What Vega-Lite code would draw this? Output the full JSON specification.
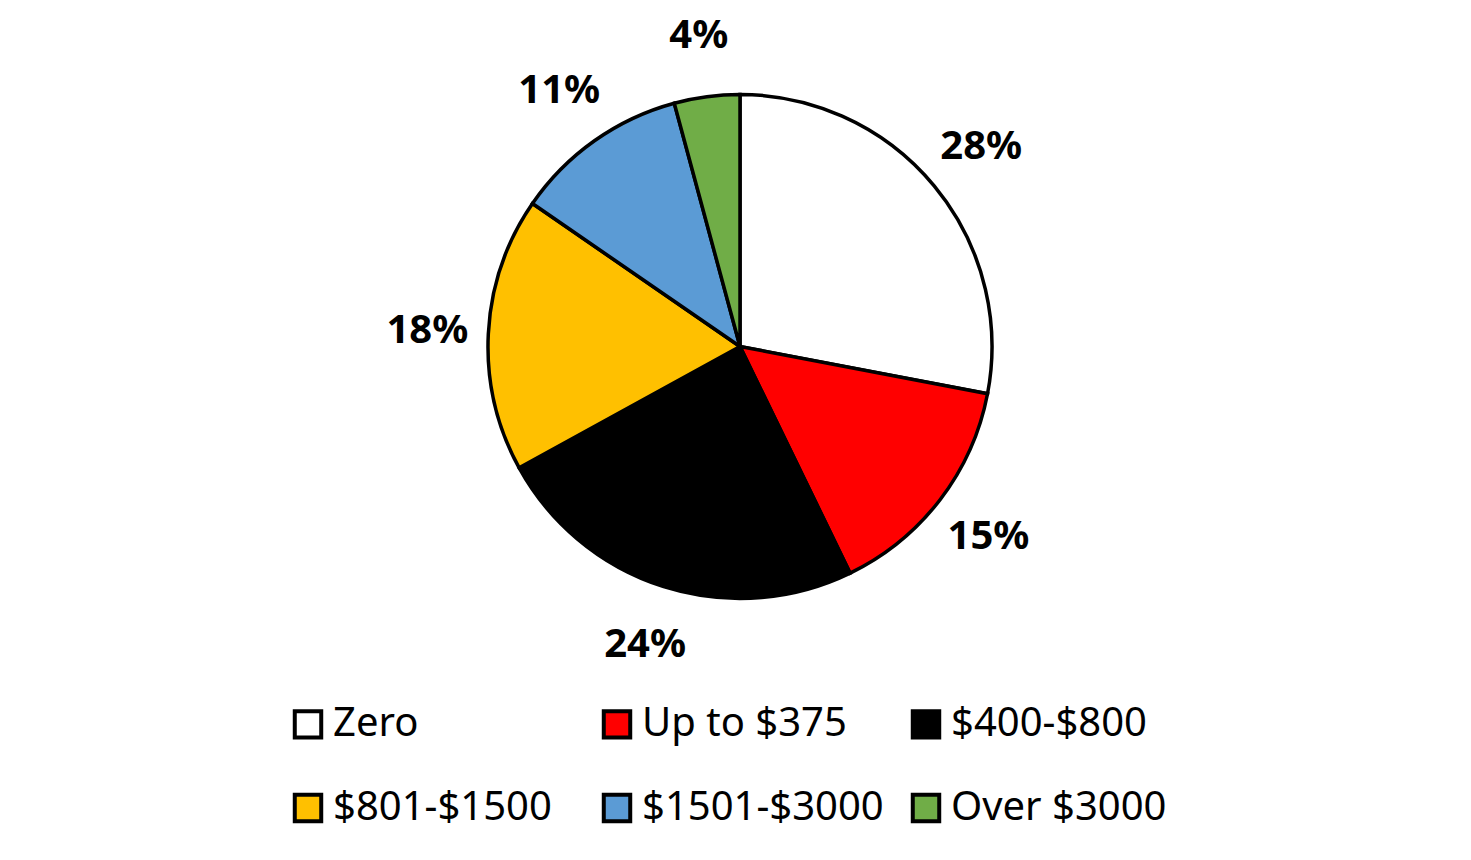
{
  "$schema": "https://vega.github.io/schema/vega-lite/v6.json",
  "width": 1462,
  "height": 693,
  "padding": {"left": 9, "top": 0, "right": 0, "bottom": 24},
  "background": "white",
  "view": {"stroke": null},
  "data": {
    "values": [
      {"category": "Zero", "share": 28, "label": "28%", "order": 1},
      {"category": "Up to $375", "share": 14.8, "label": "15%", "order": 2},
      {"category": "$400-$800", "share": 24.2, "label": "24%", "order": 3},
      {"category": "$801-$1500", "share": 17.6, "label": "18%", "order": 4},
      {"category": "$1501-$3000", "share": 11.2, "label": "11%", "order": 5},
      {"category": "Over $3000", "share": 4.2, "label": "4%", "order": 6}
    ]
  },
  "encoding": {
    "theta": {"field": "share", "type": "quantitative", "stack": true},
    "order": {"field": "order", "type": "quantitative"}
  },
  "layer": [
    {
      "mark": {"type": "arc", "outerRadius": 252, "stroke": "black", "strokeWidth": 3.5, "strokeJoin": "miter"},
      "encoding": {
        "color": {
          "field": "category",
          "type": "nominal",
          "scale": {
            "domain": ["Zero", "Up to $375", "$400-$800", "$801-$1500", "$1501-$3000", "Over $3000"],
            "range": ["#FFFFFF", "#FF0000", "#000000", "#FFC000", "#5B9BD5", "#70AD47"]
          },
          "legend": {
            "title": null,
            "orient": "none",
            "legendX": 279,
            "legendY": 704,
            "direction": "horizontal",
            "columns": 3,
            "gridAlign": "all",
            "columnPadding": 20,
            "rowPadding": 40,
            "symbolType": "square",
            "symbolSize": 700,
            "symbolStrokeColor": "black",
            "symbolStrokeWidth": 4,
            "symbolOpacity": 1,
            "labelFont": "Noto Sans",
            "labelFontSize": 40,
            "labelColor": "black",
            "labelOffset": 5,
            "labelLimit": 400
          }
        }
      }
    },
    {
      "mark": {"type": "text", "radius": 313, "font": "Noto Sans", "fontSize": 40, "fontWeight": "bold", "color": "black", "align": "center", "baseline": "middle"},
      "encoding": {
        "text": {"field": "label", "type": "nominal"}
      }
    }
  ]
}
